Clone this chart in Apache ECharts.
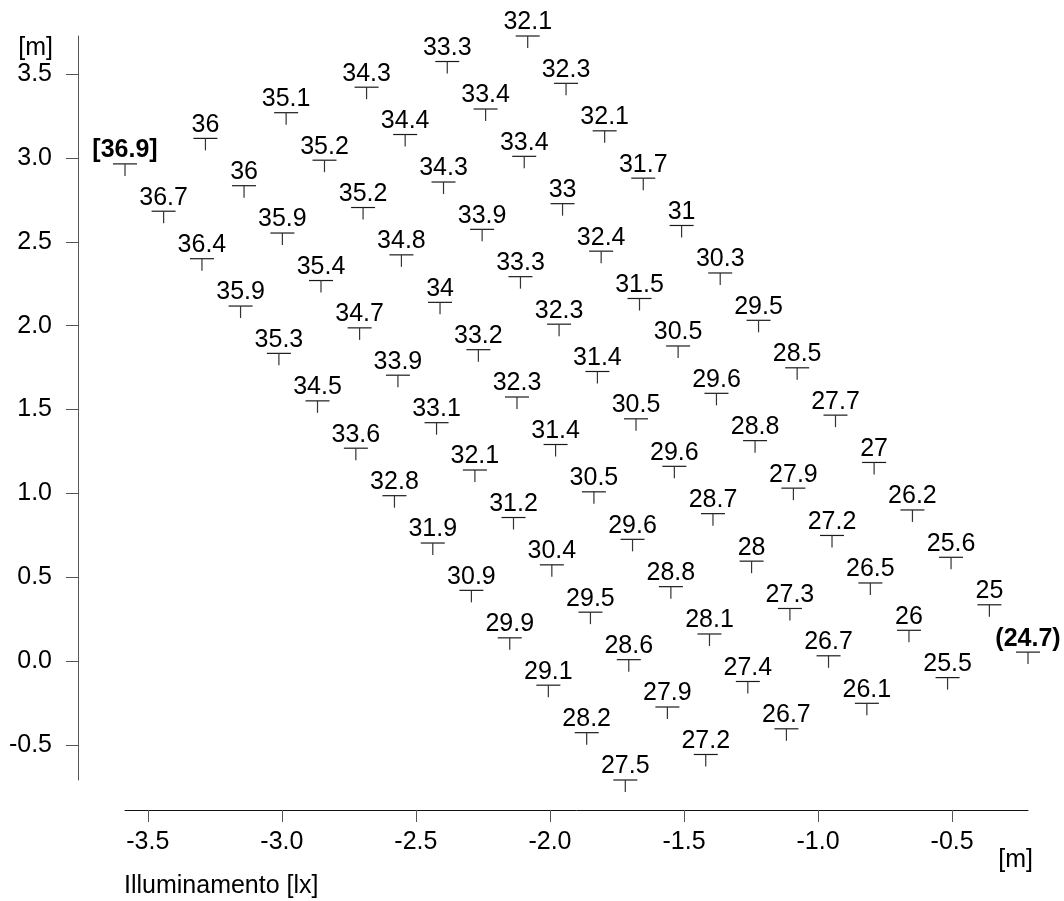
<!DOCTYPE html>
<html>
<head>
<meta charset="utf-8">
<script src="https://cdn.jsdelivr.net/npm/echarts/dist/echarts.min.js"></script>
<style>
  html, body { margin: 0; padding: 0; background: #fff; }
  #chart { width: 1064px; height: 901px; }
</style>
</head>
<body>
<div id="chart"></div>
<script>
// illuminance [lx], one row per measuring line
const lux = [
  [36.9, 36.7, 36.4, 35.9, 35.3, 34.5, 33.6, 32.8, 31.9, 30.9, 29.9, 29.1, 28.2, 27.5],
  [36, 36, 35.9, 35.4, 34.7, 33.9, 33.1, 32.1, 31.2, 30.4, 29.5, 28.6, 27.9, 27.2],
  [35.1, 35.2, 35.2, 34.8, 34, 33.2, 32.3, 31.4, 30.5, 29.6, 28.8, 28.1, 27.4, 26.7],
  [34.3, 34.4, 34.3, 33.9, 33.3, 32.3, 31.4, 30.5, 29.6, 28.7, 28, 27.3, 26.7, 26.1],
  [33.3, 33.4, 33.4, 33, 32.4, 31.5, 30.5, 29.6, 28.8, 27.9, 27.2, 26.5, 26, 25.5],
  [32.1, 32.3, 32.1, 31.7, 31, 30.3, 29.5, 28.5, 27.7, 27, 26.2, 25.6, 25, 24.7]
];
// point positions [m]
const posX = [
  [-3.585, -3.441, -3.298, -3.154, -3.011, -2.867, -2.724, -2.580, -2.437, -2.293, -2.150, -2.006, -1.863, -1.719],
  [-3.285, -3.141, -2.998, -2.854, -2.710, -2.567, -2.423, -2.280, -2.136, -1.993, -1.849, -1.706, -1.562, -1.419],
  [-2.984, -2.841, -2.697, -2.554, -2.410, -2.267, -2.123, -1.979, -1.836, -1.692, -1.549, -1.405, -1.262, -1.118],
  [-2.684, -2.540, -2.397, -2.253, -2.110, -1.966, -1.823, -1.679, -1.536, -1.392, -1.248, -1.105, -0.961, -0.818],
  [-2.383, -2.240, -2.096, -1.953, -1.809, -1.666, -1.522, -1.379, -1.235, -1.092, -0.948, -0.805, -0.661, -0.517],
  [-2.083, -1.940, -1.796, -1.652, -1.509, -1.365, -1.222, -1.078, -0.935, -0.791, -0.648, -0.504, -0.361, -0.217]
];
const posY = [
  [2.964, 2.682, 2.399, 2.117, 1.835, 1.552, 1.270, 0.987, 0.705, 0.423, 0.140, -0.142, -0.425, -0.707],
  [3.116, 2.834, 2.552, 2.269, 1.987, 1.705, 1.422, 1.140, 0.857, 0.575, 0.293, 0.010, -0.272, -0.555],
  [3.269, 2.986, 2.704, 2.422, 2.139, 1.857, 1.575, 1.292, 1.010, 0.727, 0.445, 0.163, -0.120, -0.402],
  [3.421, 3.139, 2.856, 2.574, 2.292, 2.009, 1.727, 1.445, 1.162, 0.880, 0.597, 0.315, 0.033, -0.250],
  [3.574, 3.291, 3.009, 2.727, 2.444, 2.162, 1.879, 1.597, 1.315, 1.032, 0.750, 0.467, 0.185, -0.097],
  [3.726, 3.444, 3.161, 2.879, 2.597, 2.314, 2.032, 1.749, 1.467, 1.185, 0.902, 0.620, 0.337, 0.055]
];
const xTicks = [-3.5, -3.0, -2.5, -2.0, -1.5, -1.0, -0.5];
const yTicks = [-0.5, 0.0, 0.5, 1.0, 1.5, 2.0, 2.5, 3.0, 3.5];

const FONT = '"Liberation Sans", Arial, Helvetica, sans-serif';

const points = [];
lux.forEach((row, r) => row.forEach((v, c) => points.push([posX[r][c], posY[r][c], v])));
const allLux = points.map(p => p[2]);
const maxLux = Math.max(...allLux);
const minLux = Math.min(...allLux);

const chart = echarts.init(document.getElementById('chart'));
chart.setOption({
  animation: false,
  backgroundColor: '#fff',
  grid: { left: 125, right: 36, top: 36, bottom: 121 },
  xAxis: {
    type: 'value',
    min: 'dataMin',
    max: 'dataMax',
    offset: 30,
    splitLine: { show: false },
    axisLine: { onZero: false, lineStyle: { color: '#111', width: 1 } },
    axisTick: { customValues: xTicks, length: 12, lineStyle: { color: '#555' } },
    axisLabel: {
      customValues: xTicks, margin: 20, color: '#000',
      fontSize: 25, fontFamily: FONT,
      formatter: v => v.toFixed(1)
    }
  },
  yAxis: {
    type: 'value',
    min: 'dataMin',
    max: 'dataMax',
    offset: 47,
    splitLine: { show: false },
    axisLine: { onZero: false, lineStyle: { color: '#555', width: 1 } },
    axisTick: { customValues: yTicks, length: 12, lineStyle: { color: '#555' } },
    axisLabel: {
      customValues: yTicks, margin: 26, color: '#000',
      fontSize: 25, fontFamily: FONT,
      formatter: v => v.toFixed(1)
    }
  },
  graphic: [
    { type: 'text', x: 53, y: 48, style: { text: '[m]', align: 'right', verticalAlign: 'middle', font: '25px ' + FONT, fill: '#000' } },
    { type: 'text', x: 1033, y: 860, style: { text: '[m]', align: 'right', verticalAlign: 'middle', font: '25px ' + FONT, fill: '#000' } },
    { type: 'text', x: 124, y: 886, style: { text: 'Illuminamento [lx]', align: 'left', verticalAlign: 'middle', font: '25px ' + FONT, fill: '#000' } }
  ],
  series: [{
    type: 'custom',
    data: points,
    clip: false,
    renderItem: function (params, api) {
      const p = api.coord([api.value(0), api.value(1)]);
      const v = api.value(2);
      let text = String(v);
      let weight = 'normal';
      if (v === maxLux) { text = '[' + v + ']'; weight = 'bold'; }
      if (v === minLux) { text = '(' + v + ')'; weight = 'bold'; }
      return {
        type: 'group',
        children: [
          { type: 'line', shape: { x1: p[0] - 12, y1: p[1], x2: p[0] + 12, y2: p[1] }, style: { stroke: '#1a1a1a', lineWidth: 1.2 } },
          { type: 'line', shape: { x1: p[0], y1: p[1], x2: p[0], y2: p[1] + 12 }, style: { stroke: '#333', lineWidth: 1.2 } },
          { type: 'text', x: p[0], y: p[1] - 1,
            style: { text: text, align: 'center', verticalAlign: 'bottom', font: weight + ' 25px ' + FONT, fill: '#000' } }
        ]
      };
    }
  }]
});
window.addEventListener('resize', () => chart.resize());
</script>
</body>
</html>
